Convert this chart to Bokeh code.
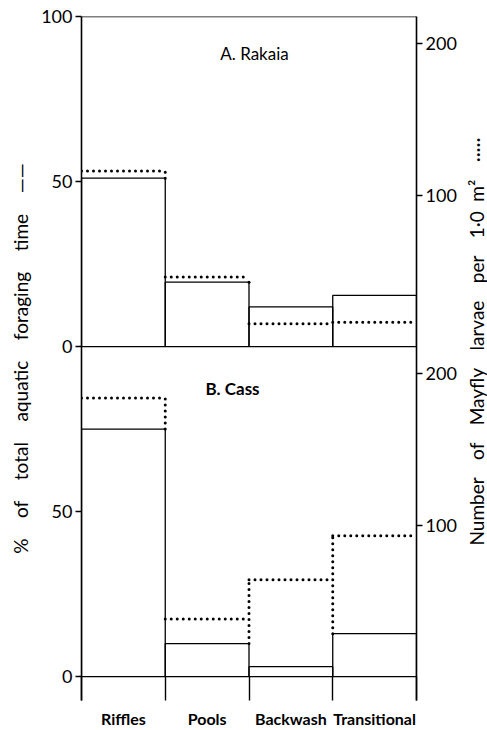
import math
from bokeh.plotting import figure
from bokeh.models import Range1d, LinearAxis, FixedTicker, Label, Span, ColumnDataSource
from bokeh.embed import file_html
from bokeh.resources import INLINE

# ---------------- data ----------------
categories = ["Riffles", "Pools", "Backwash", "Transitional"]
rakaia_foraging_pct = [51, 19.5, 12, 15.5]      # solid bars, left axis (%)
rakaia_mayfly_density = [116, 46, 15, 16]        # dotted, right axis (per 1.0 m2)
cass_foraging_pct = [75, 10, 3, 13]
cass_mayfly_density = [184, 38, 64, 93]
left_ticks_a = [0, 50, 100]
left_ticks_b = [0, 50]
right_ticks_a = [100, 200]
right_ticks_b = [100, 200]
title_a = "A. Rakaia"
title_b = "B. Cass"
GAP_L = "\u2003\u2004"
GAP_R = "\u2003\u2006"
left_title = GAP_L.join(["%", "of", "total", "aquatic", "foraging", "time", "\u2014\u2014"])
right_title = GAP_R.join(["Number", "of", "Mayfly", "larvae", "per", "1\u00b70\u2002m\u00b2",
                          "\u00b7\u00b7\u00b7\u00b7\u00b7"])

# ---------------- layout (pixels inside the figure canvas) ----------------
W, H = 487, 730
FL, FR, FT, FB = 81, 416, 16, 702
A0, B0 = 347, 678          # zero lines of panel A and panel B
L_OFF, R_OFF = 100, 218    # axis-unit offsets between the two panels
LS = (B0 - A0) / L_OFF     # px per % unit
RS = (B0 - A0) / R_OFF     # px per larva unit
FONT = "Lato"

n = len(categories)
b_left = Range1d(-(FB - B0) / LS, (B0 - FT) / LS)
a_left = Range1d(b_left.start - L_OFF, b_left.end - L_OFF)
b_right = Range1d(-(FB - B0) / RS, (B0 - FT) / RS)
a_right = Range1d(b_right.start - R_OFF, b_right.end - R_OFF)
xw = (FR - FL) / n


def px_to_x(px):
    return (px - FL) / xw


def px_to_left(py, zero):
    return (zero - py) / LS


p = figure(width=W, height=H, x_range=Range1d(0, n), y_range=b_left,
           output_backend="svg", toolbar_location=None,
           x_axis_location=None, y_axis_location=None,
           min_border_left=FL, min_border_right=W - FR,
           min_border_top=FT, min_border_bottom=H - FB)
p.extra_y_ranges = {"a_left": a_left, "b_right": b_right, "a_right": a_right}
p.grid.visible = False
p.outline_line_color = None
p.background_fill_color = "white"
p.border_fill_color = "white"

axis_style = dict(axis_line_color="black", axis_line_width=1.6,
                  major_tick_line_color="black", major_tick_line_width=1.4,
                  major_tick_in=0, major_tick_out=6,
                  minor_tick_line_color=None, minor_tick_in=0, minor_tick_out=0,
                  major_label_text_font=FONT, major_label_text_font_size="18px",
                  major_label_text_color="black", major_label_standoff=3,
                  axis_label_text_font=FONT, axis_label_text_font_size="19px",
                  axis_label_text_font_style="normal", axis_label_text_color="black")

# left axis: panel B ticks + panel A ticks (offset)
lticks = list(left_ticks_b) + [t + L_OFF for t in left_ticks_a]
lover = {t + L_OFF: str(t) for t in left_ticks_a}
la = LinearAxis(ticker=FixedTicker(ticks=lticks, minor_ticks=[]),
                major_label_overrides=lover, axis_label=left_title,
                axis_label_standoff=6, **axis_style)
p.add_layout(la, "left")

rticks = list(right_ticks_b) + [t + R_OFF for t in right_ticks_a]
rover = {t + R_OFF: str(t) for t in right_ticks_a}
ra = LinearAxis(y_range_name="b_right",
                ticker=FixedTicker(ticks=rticks, minor_ticks=[]),
                major_label_overrides=rover, **axis_style)
p.add_layout(ra, "right")

# bottom axis: category labels at centres, dividers as inward minor ticks
xa = LinearAxis(ticker=FixedTicker(ticks=[i + 0.5 for i in range(n)],
                                   minor_ticks=list(range(n + 1))),
                major_label_overrides={i + 0.5: c for i, c in enumerate(categories)},
                axis_line_color=None, major_tick_line_color=None,
                major_tick_in=0, major_tick_out=0,
                minor_tick_line_color="black", minor_tick_line_width=1.4,
                minor_tick_in=FB - B0, minor_tick_out=0,
                major_label_text_font=FONT, major_label_text_font_size="16px",
                major_label_text_font_style="bold", major_label_standoff=8,
                major_label_text_color="black")
p.add_layout(xa, "below")

# top border of panel A
p.add_layout(Span(location=a_left.end, dimension="width", y_range_name="a_left",
                  line_color="black", line_width=1.6))


def dotted_segments(solid, dotted):
    x0, y0, x1, y1 = [], [], [], []
    k = LS / RS
    for i, d in enumerate(dotted):
        x0.append(i); x1.append(i + 1); y0.append(d); y1.append(d)
    for i in range(len(dotted) - 1):
        hi = max(dotted[i], dotted[i + 1])
        lo = max(solid[i], solid[i + 1]) * k
        if hi > lo:
            x0.append(i + 1); x1.append(i + 1); y0.append(lo); y1.append(hi)
    return dict(x0=x0, y0=y0, x1=x1, y1=y1)


for solid, dotted, lname, rname in [
        (rakaia_foraging_pct, rakaia_mayfly_density, "a_left", "a_right"),
        (cass_foraging_pct, cass_mayfly_density, "default", "b_right")]:
    src = ColumnDataSource(dict(left=list(range(n)), right=[i + 1 for i in range(n)],
                                bottom=[0] * n, top=solid))
    p.quad(left="left", right="right", bottom="bottom", top="top", source=src,
           fill_color=None, line_color="black", line_width=1.3, y_range_name=lname)
    p.segment(x0="x0", y0="y0", x1="x1", y1="y1",
              source=ColumnDataSource(dotted_segments(solid, dotted)),
              line_color="black", line_width=3, line_dash="0 6", line_cap="round",
              y_range_name=rname)

# panel titles
p.add_layout(Label(x=px_to_x(254), y=px_to_left(53, A0), y_range_name="a_left",
                   text=title_a, text_font=FONT, text_font_size="17px",
                   text_align="center", text_baseline="middle", text_color="black"))
p.add_layout(Label(x=px_to_x(232), y=px_to_left(389, B0),
                   text=title_b, text_font=FONT, text_font_size="17px",
                   text_font_style="bold",
                   text_align="center", text_baseline="middle", text_color="black"))

# right-hand axis title (placed in the right side panel so it is not clipped)
p.add_layout(Label(x=px_to_x(476), y=px_to_left(342, B0), angle=math.pi / 2,
                   text=right_title, text_font=FONT, text_font_size="19px",
                   text_align="center", text_baseline="middle", text_color="black"),
             "right")

open("out.html", "w").write(file_html(p, INLINE))
